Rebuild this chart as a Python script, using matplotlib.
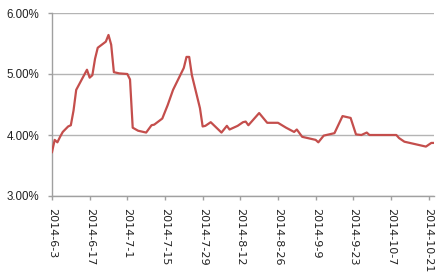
import matplotlib
matplotlib.use("Agg")
import matplotlib.pyplot as plt
import pandas as pd
from matplotlib.ticker import FuncFormatter

dates = ["2014-06-03", "2014-06-04", "2014-06-05", "2014-06-06", "2014-06-07", "2014-06-09",
         "2014-06-10", "2014-06-11", "2014-06-12", "2014-06-16", "2014-06-17", "2014-06-18",
         "2014-06-19", "2014-06-20", "2014-06-23", "2014-06-24", "2014-06-25", "2014-06-26",
         "2014-06-28", "2014-07-01", "2014-07-02", "2014-07-03", "2014-07-05", "2014-07-08",
         "2014-07-10", "2014-07-11", "2014-07-14", "2014-07-16", "2014-07-18", "2014-07-22",
         "2014-07-23", "2014-07-24", "2014-07-25", "2014-07-28", "2014-07-29", "2014-07-30",
         "2014-08-01", "2014-08-05", "2014-08-07", "2014-08-08", "2014-08-11", "2014-08-13",
         "2014-08-14", "2014-08-15", "2014-08-19", "2014-08-22", "2014-08-26", "2014-08-29",
         "2014-09-01", "2014-09-02", "2014-09-04", "2014-09-09", "2014-09-10", "2014-09-12",
         "2014-09-16", "2014-09-19", "2014-09-22", "2014-09-24", "2014-09-26", "2014-09-28",
         "2014-09-29", "2014-10-09", "2014-10-10", "2014-10-12", "2014-10-20", "2014-10-22",
         "2014-10-23"]
rates = [3.72, 3.92, 3.88, 3.97, 4.05, 4.14,
         4.16, 4.40, 4.74, 5.07, 4.94, 4.98,
         5.25, 5.43, 5.53, 5.64, 5.48, 5.03,
         5.01, 5.00, 4.91, 4.12, 4.07, 4.04,
         4.16, 4.17, 4.27, 4.49, 4.74, 5.10,
         5.28, 5.28, 4.98, 4.44, 4.14, 4.15,
         4.21, 4.04, 4.15, 4.09, 4.15, 4.21,
         4.22, 4.16, 4.36, 4.20, 4.20, 4.12,
         4.05, 4.09, 3.97, 3.92, 3.88, 3.99,
         4.03, 4.31, 4.28, 4.01, 4.00, 4.04,
         4.00, 4.00, 3.95, 3.89, 3.81, 3.87,
         3.87]
tick_dates = ["2014-06-03", "2014-06-17", "2014-07-01", "2014-07-15", "2014-07-29", "2014-08-12",
              "2014-08-26", "2014-09-09", "2014-09-23", "2014-10-07", "2014-10-21"]
tick_labels = ["2014-6-3", "2014-6-17", "2014-7-1", "2014-7-15", "2014-7-29", "2014-8-12",
               "2014-8-26", "2014-9-9", "2014-9-23", "2014-10-7", "2014-10-21"]
y_ticks = [3.0, 4.0, 5.0, 6.0]

x = pd.to_datetime(dates)
tx = pd.to_datetime(tick_dates)

fig = plt.figure(figsize=(4.45, 2.79), dpi=100)
ax = fig.add_axes([52/445, 1-196/279, (434-52)/445, (196-13)/279])

ax.plot(x, rates, color="#C44E4C", lw=1.6, solid_joinstyle="round", zorder=3)

ax.set_ylim(3.0, 6.0)
ax.set_yticks(y_ticks)
ax.yaxis.set_major_formatter(FuncFormatter(lambda v, p: f"{v:.2f}%"))
ax.set_xlim(x[0], x[-1])
ax.set_xticks(tx)
ax.set_xticklabels(tick_labels, rotation=270, va="top", ha="center")

ax.grid(axis="y", color="#b4b4b4", lw=1.0)
ax.set_axisbelow(True)
for s in ["top", "right"]:
    ax.spines[s].set_visible(False)
for s in ["left", "bottom"]:
    ax.spines[s].set_color("#a0a0a0")
    ax.spines[s].set_linewidth(1.0)
ax.tick_params(axis="both", colors="#a0a0a0", length=3, width=1.0,
               labelcolor="#222222")
ax.tick_params(axis="x", pad=6, labelsize=8)
ax.tick_params(axis="y", pad=6, labelsize=8.3)
for lab in ax.get_yticklabels():
    lab.set_fontfamily("Liberation Sans")

fig.savefig("out.png", dpi=100)
